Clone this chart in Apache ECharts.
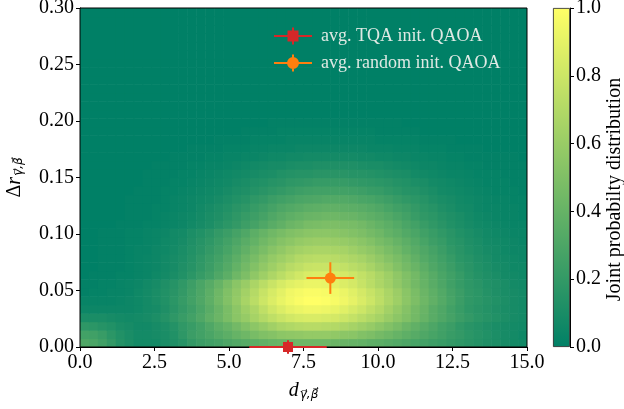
<!DOCTYPE html>
<html><head><meta charset="utf-8">
<script src="https://cdn.jsdelivr.net/npm/echarts@6/dist/echarts.min.js"></script>
<style>html,body{margin:0;padding:0;background:#fff}#c{width:624px;height:409px}</style>
</head><body><div id="c"></div>
<script>
// cell centres of the joint-probability grid
const xCenters = [0.15,0.45,0.75,1.05,1.35,1.65,1.95,2.25,2.55,2.85,3.15,3.45,3.75,4.05,4.35,4.65,4.95,5.25,5.55,5.85,6.15,6.45,6.75,7.05,7.35,7.65,7.95,8.25,8.55,8.85,9.15,9.45,9.75,10.05,10.35,10.65,10.95,11.25,11.55,11.85,12.15,12.45,12.75,13.05,13.35,13.65,13.95,14.25,14.55,14.85];
const yCenters = [0.00375,0.01125,0.01875,0.02625,0.03375,0.04125,0.04875,0.05625,0.06375,0.07125,0.07875,0.08625,0.09375,0.10125,0.10875,0.11625,0.12375,0.13125,0.13875,0.14625,0.15375,0.16125,0.16875,0.17625,0.18375,0.19125,0.19875,0.20625,0.21375,0.22125,0.22875,0.23625,0.24375,0.25125,0.25875,0.26625,0.27375,0.28125,0.28875,0.29625];
// joint probability (rows = yCenters, columns = xCenters)
const density = [
[.31,.29,.25,.20,.14,.11,.08,.08,.08,.10,.12,.15,.20,.23,.25,.27,.30,.32,.34,.36,.38,.40,.41,.42,.43,.43,.43,.43,.42,.41,.40,.39,.37,.36,.34,.32,.30,.28,.26,.24,.22,.20,.18,.16,.14,.12,.11,.09,.08,.07],
[.26,.25,.22,.17,.13,.10,.08,.08,.09,.10,.13,.18,.23,.26,.29,.33,.36,.40,.43,.47,.50,.52,.55,.56,.57,.58,.58,.58,.57,.55,.54,.51,.49,.46,.43,.40,.37,.34,.31,.28,.25,.22,.20,.17,.15,.13,.11,.09,.08,.06],
[.18,.17,.15,.13,.10,.09,.07,.07,.09,.11,.14,.19,.22,.26,.31,.36,.40,.45,.50,.55,.59,.63,.67,.69,.71,.72,.72,.71,.70,.68,.65,.62,.59,.55,.51,.47,.42,.38,.34,.30,.26,.23,.19,.16,.14,.12,.10,.09,.08,.07],
[.10,.10,.10,.09,.08,.07,.08,.09,.11,.14,.18,.22,.26,.31,.37,.42,.48,.54,.59,.65,.70,.75,.79,.82,.84,.85,.85,.84,.83,.80,.77,.73,.69,.65,.60,.55,.50,.45,.40,.35,.31,.27,.23,.20,.17,.15,.13,.11,.09,.08],
[.05,.05,.05,.05,.05,.05,.06,.08,.09,.12,.16,.20,.24,.29,.35,.41,.48,.55,.62,.68,.75,.81,.86,.90,.92,.94,.94,.93,.91,.88,.84,.80,.75,.70,.64,.58,.52,.46,.41,.35,.31,.26,.22,.18,.16,.14,.12,.10,.09,.08],
[.03,.03,.03,.03,.04,.05,.06,.08,.10,.13,.17,.21,.26,.31,.37,.44,.51,.58,.66,.73,.80,.86,.91,.95,.98,1,1,.99,.97,.94,.90,.85,.80,.74,.68,.62,.55,.49,.43,.38,.33,.28,.23,.19,.17,.15,.13,.11,.09,.08],
[.01,.02,.02,.03,.03,.04,.06,.08,.10,.13,.16,.20,.25,.30,.36,.43,.50,.57,.64,.71,.78,.84,.89,.94,.96,.98,.98,.97,.95,.92,.88,.83,.78,.73,.67,.61,.54,.48,.42,.37,.32,.27,.23,.19,.17,.14,.12,.10,.09,.08],
[.01,.01,.02,.02,.03,.04,.05,.07,.09,.12,.15,.19,.24,.29,.34,.40,.47,.54,.60,.67,.73,.79,.84,.88,.90,.92,.92,.91,.89,.86,.83,.78,.73,.68,.63,.57,.51,.45,.40,.35,.30,.25,.21,.18,.16,.13,.12,.10,.08,.07],
[0,.01,.01,.01,.02,.02,.03,.04,.06,.08,.10,.13,.17,.21,.25,.31,.36,.43,.49,.56,.62,.68,.73,.78,.82,.85,.86,.86,.85,.83,.80,.76,.72,.67,.62,.56,.50,.45,.39,.34,.29,.25,.21,.17,.14,.12,.10,.08,.07,.06],
[0,0,.01,.01,.01,.02,.03,.04,.05,.07,.09,.12,.15,.19,.23,.28,.33,.39,.45,.51,.57,.62,.67,.72,.75,.78,.79,.79,.78,.76,.73,.70,.66,.61,.57,.51,.46,.41,.36,.31,.27,.23,.19,.16,.13,.11,.09,.08,.06,.06],
[0,0,.01,.01,.01,.02,.03,.04,.05,.07,.09,.11,.14,.18,.22,.26,.31,.36,.42,.47,.53,.58,.62,.66,.70,.72,.73,.73,.72,.70,.68,.65,.61,.57,.52,.48,.43,.38,.33,.29,.25,.21,.17,.15,.12,.10,.08,.07,.06,.05],
[0,0,.01,.01,.01,.02,.03,.03,.05,.06,.08,.10,.13,.16,.20,.24,.28,.33,.38,.43,.48,.53,.57,.61,.64,.66,.67,.67,.66,.65,.62,.59,.56,.52,.48,.44,.39,.35,.31,.27,.23,.19,.16,.13,.11,.09,.08,.06,.05,.05],
[0,0,.01,.01,.01,.02,.02,.03,.04,.06,.07,.09,.12,.15,.18,.22,.26,.30,.35,.39,.44,.48,.52,.55,.58,.60,.61,.61,.60,.59,.57,.54,.51,.47,.44,.40,.36,.32,.28,.24,.21,.17,.15,.12,.10,.08,.07,.06,.05,.04],
[0,0,.01,.01,.01,.02,.02,.03,.04,.05,.07,.08,.11,.13,.16,.20,.23,.27,.31,.36,.40,.44,.47,.50,.52,.54,.55,.55,.54,.53,.51,.49,.46,.43,.39,.36,.32,.29,.25,.22,.19,.16,.13,.11,.09,.07,.06,.05,.04,.04],
[0,0,0,0,.01,.01,.01,.02,.02,.03,.04,.05,.07,.09,.11,.14,.17,.20,.24,.27,.31,.35,.38,.42,.44,.47,.48,.49,.49,.48,.47,.45,.42,.39,.36,.33,.29,.26,.22,.19,.16,.13,.11,.09,.07,.06,.05,.04,.03,.03],
[0,0,0,0,0,.01,.01,.01,.02,.03,.04,.05,.06,.08,.10,.12,.15,.18,.21,.24,.27,.31,.34,.37,.39,.41,.42,.43,.43,.42,.41,.39,.37,.35,.32,.29,.26,.22,.19,.17,.14,.12,.10,.08,.06,.05,.04,.03,.03,.02],
[0,0,0,0,0,.01,.01,.01,.02,.02,.03,.04,.05,.07,.09,.11,.13,.16,.18,.21,.24,.27,.30,.32,.34,.36,.37,.38,.38,.37,.36,.35,.33,.31,.28,.25,.23,.20,.17,.15,.12,.10,.08,.07,.05,.04,.04,.03,.03,.02],
[0,0,0,0,0,.01,.01,.01,.01,.02,.03,.04,.05,.06,.07,.09,.11,.13,.15,.18,.20,.23,.25,.27,.29,.30,.31,.32,.32,.32,.31,.29,.28,.26,.24,.21,.19,.17,.15,.12,.10,.09,.07,.06,.05,.04,.03,.03,.02,.02],
[0,0,0,0,0,0,.01,.01,.01,.02,.02,.03,.04,.05,.06,.07,.09,.11,.12,.14,.16,.18,.20,.22,.24,.25,.26,.26,.26,.26,.25,.24,.22,.21,.19,.17,.15,.14,.12,.10,.08,.07,.06,.05,.04,.03,.02,.02,.02,.01],
[0,0,0,0,0,0,0,.01,.01,.01,.02,.02,.03,.04,.05,.06,.07,.09,.10,.12,.13,.15,.16,.18,.19,.20,.21,.21,.21,.21,.20,.19,.18,.17,.16,.14,.13,.11,.10,.08,.07,.06,.05,.04,.03,.02,.02,.02,.01,.01],
[0,0,0,0,0,0,0,.01,.01,.01,.01,.02,.02,.03,.04,.05,.06,.07,.08,.09,.10,.11,.13,.14,.15,.15,.16,.16,.16,.16,.15,.15,.14,.13,.12,.11,.10,.08,.07,.06,.05,.04,.04,.03,.02,.02,.02,.01,.01,.01],
[0,0,0,0,0,0,0,0,.01,.01,.01,.01,.02,.02,.03,.03,.04,.05,.06,.07,.08,.09,.09,.10,.11,.11,.12,.12,.12,.12,.12,.11,.10,.10,.09,.08,.07,.06,.05,.05,.04,.03,.03,.02,.02,.01,.01,.01,.01,.01],
[0,0,0,0,0,0,0,0,0,0,.01,.01,.01,.01,.02,.02,.03,.03,.04,.04,.05,.06,.06,.07,.07,.08,.08,.08,.08,.08,.08,.07,.07,.06,.06,.05,.05,.04,.04,.03,.03,.02,.02,.01,.01,.01,.01,.01,.01,0],
[0,0,0,0,0,0,0,0,0,0,0,0,.01,.01,.01,.01,.02,.02,.02,.03,.03,.04,.04,.04,.05,.05,.05,.05,.05,.05,.05,.05,.04,.04,.04,.03,.03,.03,.02,.02,.02,.01,.01,.01,.01,0,0,0,0,0],
[0,0,0,0,0,0,0,0,0,0,0,0,0,0,0,.01,.01,.01,.01,.02,.02,.02,.02,.03,.03,.03,.03,.03,.03,.03,.03,.03,.03,.02,.02,.02,.02,.02,.01,.01,.01,.01,0,0,0,0,0,0,0,0],
[0,0,0,0,0,0,0,0,0,0,0,0,0,0,0,0,0,0,.01,.01,.01,.01,.02,.02,.02,.02,.02,.02,.02,.02,.02,.02,.02,.01,.01,.01,.01,.01,0,0,0,0,0,0,0,0,0,0,0,0],
[0,0,0,0,0,0,0,0,0,0,0,0,0,0,0,0,0,0,0,0,0,.01,.01,.01,.01,.01,.01,.01,.01,.01,.01,.01,.01,.01,.01,.01,0,0,0,0,0,0,0,0,0,0,0,0,0,0],
[0,0,0,0,0,0,0,0,0,0,0,0,0,0,0,0,0,0,0,0,0,0,0,0,0,0,0,0,0,0,0,0,0,0,0,0,0,0,0,0,0,0,0,0,0,0,0,0,0,0],
[0,0,0,0,0,0,0,0,0,0,0,0,0,0,0,0,0,0,0,0,0,0,0,0,0,0,0,0,0,0,0,0,0,0,0,0,0,0,0,0,0,0,0,0,0,0,0,0,0,0],
[0,0,0,0,0,0,0,0,0,0,0,0,0,0,0,0,0,0,0,0,0,0,0,0,0,0,0,0,0,0,0,0,0,0,0,0,0,0,0,0,0,0,0,0,0,0,0,0,0,0],
[0,0,0,0,0,0,0,0,0,0,0,0,0,0,0,0,0,0,0,0,0,0,0,0,0,0,0,0,0,0,0,0,0,0,0,0,0,0,0,0,0,0,0,0,0,0,0,0,0,0],
[0,0,0,0,0,0,0,0,0,0,0,0,0,0,0,0,0,0,0,0,0,0,0,0,0,0,0,0,0,0,0,0,0,0,0,0,0,0,0,0,0,0,0,0,0,0,0,0,0,0],
[0,0,0,0,0,0,0,0,0,0,0,0,0,0,0,0,0,0,0,0,0,0,0,0,0,0,0,0,0,0,0,0,0,0,0,0,0,0,0,0,0,0,0,0,0,0,0,0,0,0],
[0,0,0,0,0,0,0,0,0,0,0,0,0,0,0,0,0,0,0,0,0,0,0,0,0,0,0,0,0,0,0,0,0,0,0,0,0,0,0,0,0,0,0,0,0,0,0,0,0,0],
[0,0,0,0,0,0,0,0,0,0,0,0,0,0,0,0,0,0,0,0,0,0,0,0,0,0,0,0,0,0,0,0,0,0,0,0,0,0,0,0,0,0,0,0,0,0,0,0,0,0],
[0,0,0,0,0,0,0,0,0,0,0,0,0,0,0,0,0,0,0,0,0,0,0,0,0,0,0,0,0,0,0,0,0,0,0,0,0,0,0,0,0,0,0,0,0,0,0,0,0,0],
[0,0,0,0,0,0,0,0,0,0,0,0,0,0,0,0,0,0,0,0,0,0,0,0,0,0,0,0,0,0,0,0,0,0,0,0,0,0,0,0,0,0,0,0,0,0,0,0,0,0],
[0,0,0,0,0,0,0,0,0,0,0,0,0,0,0,0,0,0,0,0,0,0,0,0,0,0,0,0,0,0,0,0,0,0,0,0,0,0,0,0,0,0,0,0,0,0,0,0,0,0],
[0,0,0,0,0,0,0,0,0,0,0,0,0,0,0,0,0,0,0,0,0,0,0,0,0,0,0,0,0,0,0,0,0,0,0,0,0,0,0,0,0,0,0,0,0,0,0,0,0,0],
[0,0,0,0,0,0,0,0,0,0,0,0,0,0,0,0,0,0,0,0,0,0,0,0,0,0,0,0,0,0,0,0,0,0,0,0,0,0,0,0,0,0,0,0,0,0,0,0,0,0]
];
// averages with error bars: [x, y] and [xErr, yErr]
const seriesNames = ['avg. TQA init. QAOA', 'avg. random init. QAOA'];
const tqaPoint = [6.98, 0.0];
const tqaErr = [1.3, 0.006];
const randPoint = [8.4, 0.061];
const randErr = [0.8, 0.014];
const colorbarName = 'Joint probabilty distribution';

const FONT = "'Liberation Serif','DejaVu Serif',serif";
const SUBFONT = "'DejaVu Sans','Liberation Serif',serif";
const C0 = '#008066', C1 = '#ffff66';
const RED = '#d62728', ORANGE = '#ff7f0e';

const cellW = xCenters[1] - xCenters[0];
const cellH = yCenters[1] - yCenters[0];
const heat = [];
density.forEach((row, j) => row.forEach((v, i) => heat.push([xCenters[i], yCenters[j], v])));

function errRender(color) {
  return function (params, api) {
    const x = api.value(0), y = api.value(1), ex = api.value(2), ey = api.value(3);
    const l = api.coord([x - ex, y]), r = api.coord([x + ex, y]);
    const t = api.coord([x, y + ey]), b = api.coord([x, y - ey]);
    return {type: 'group', children: [
      {type: 'line', shape: {x1: l[0], y1: l[1], x2: r[0], y2: r[1]}, style: {stroke: color, lineWidth: 2}},
      {type: 'line', shape: {x1: t[0], y1: t[1], x2: b[0], y2: b[1]}, style: {stroke: color, lineWidth: 2}}
    ]};
  };
}

const ICON_BAR = 'M0,7.5h38v2h-38z M18,0h2v17h-2z ';
const ICON_SQUARE = 'path://' + ICON_BAR + 'M13.5,3h11v11h-11z';
const ICON_CIRCLE = 'path://' + ICON_BAR +
  'M25,8.5L24.54,10.8L23.24,12.74L21.3,14.04L19,14.5L16.7,14.04L14.76,12.74L13.46,10.8L13,8.5L13.46,6.2L14.76,4.26L16.7,2.96L19,2.5L21.3,2.96L23.24,4.26L24.54,6.2z';

const tickLabel = {color: '#000', fontFamily: FONT, fontSize: 20, margin: 6};
const axisLine = {show: true, onZero: false, lineStyle: {color: '#000', width: 1}};
const axisTick = {show: true, length: 4, lineStyle: {color: '#000', width: 1}};
const subRich = {
  u: {fontSize: 20, fontFamily: FONT, color: '#000', verticalAlign: 'top', lineHeight: 20},
  m: {fontSize: 20, fontFamily: FONT, fontStyle: 'italic', color: '#000', verticalAlign: 'top', lineHeight: 20},
  s: {fontSize: 12, fontFamily: SUBFONT, fontStyle: 'italic', color: '#000', verticalAlign: 'bottom', lineHeight: 13, padding: [11, 0, 0, 1]}
};

const chart = echarts.init(document.getElementById('c'));
chart.setOption({
  animation: false,
  backgroundColor: '#fff',
  grid: [
    {left: 80, top: 8, width: 447, height: 339, outerBoundsMode: 'none', containLabel: false,
     show: true, z: 5, backgroundColor: 'transparent', borderColor: '#000', borderWidth: 1},
    {left: 553, top: 8, width: 17, height: 339, outerBoundsMode: 'none', containLabel: false}
  ],
  visualMap: {type: 'continuous', show: false, min: 0, max: 1, dimension: 2, seriesIndex: 0, inRange: {color: [C0, C1]}},
  legend: {
    orient: 'vertical', left: 269, top: 22, itemWidth: 38, itemHeight: 17, itemGap: 9, selectedMode: false,
    data: [
      {name: seriesNames[0], icon: ICON_SQUARE},
      {name: seriesNames[1], icon: ICON_CIRCLE}
    ],
    textStyle: {color: '#dfe9e4', fontFamily: FONT, fontSize: 18, padding: [0, 0, 0, 4]}
  },
  xAxis: [
    {gridIndex: 0, type: 'value', min: 0, max: 15, interval: 2.5, axisLine, axisTick, splitLine: {show: false},
     axisLabel: Object.assign({formatter: v => v.toFixed(1)}, tickLabel),
     name: '{m|d}{s|γ⃗,β⃗}', nameLocation: 'middle', nameGap: 20, nameTextStyle: {rich: subRich}},
    {gridIndex: 1, type: 'category', data: ['cb'], show: false}
  ],
  yAxis: [
    {gridIndex: 0, type: 'value', min: 0, max: 0.3, interval: 0.05, axisLine, axisTick, splitLine: {show: false},
     axisLabel: Object.assign({formatter: v => v.toFixed(2)}, tickLabel),
     name: '{u|Δ}{m|r}{s|γ⃗,β⃗}', nameLocation: 'middle', nameRotate: 90, nameGap: 55, nameTextStyle: {rich: subRich}},
    {gridIndex: 1, type: 'value', position: 'right', min: 0, max: 1, interval: 0.2, axisLine, axisTick, splitLine: {show: false},
     axisLabel: Object.assign({formatter: v => v.toFixed(1)}, tickLabel),
     name: colorbarName, nameLocation: 'middle', nameRotate: 90, nameGap: 33,
     nameTextStyle: {color: '#000', fontFamily: FONT, fontSize: 20, lineHeight: 20, padding: [0, 24, 0, 0]}}
  ],
  series: [
    {type: 'custom', name: 'density', xAxisIndex: 0, yAxisIndex: 0, data: heat, clip: true, silent: true,
     encode: {x: 0, y: 1},
     renderItem: function (params, api) {
       const x = api.value(0), y = api.value(1);
       const p0 = api.coord([x - cellW / 2, y + cellH / 2]);
       const p1 = api.coord([x + cellW / 2, y - cellH / 2]);
       return {type: 'rect', shape: {x: p0[0], y: p0[1], width: p1[0] - p0[0] + 0.6, height: p1[1] - p0[1] + 0.6},
               style: {fill: api.visual('color')}};
     }},
    {type: 'custom', name: 'tqaErr', xAxisIndex: 0, yAxisIndex: 0, z: 11, clip: false, silent: true,
     data: [[tqaPoint[0], tqaPoint[1], tqaErr[0], tqaErr[1]]], renderItem: errRender(RED)},
    {type: 'custom', name: 'randErr', xAxisIndex: 0, yAxisIndex: 0, z: 11, clip: false, silent: true,
     data: [[randPoint[0], randPoint[1], randErr[0], randErr[1]]], renderItem: errRender(ORANGE)},
    {type: 'scatter', name: seriesNames[0], xAxisIndex: 0, yAxisIndex: 0, z: 12, clip: false, silent: true,
     symbol: 'rect', symbolSize: 10, itemStyle: {color: RED, opacity: 1}, data: [tqaPoint]},
    {type: 'scatter', name: seriesNames[1], xAxisIndex: 0, yAxisIndex: 0, z: 12, clip: false, silent: true,
     symbol: 'circle', symbolSize: 11, itemStyle: {color: ORANGE, opacity: 1}, data: [randPoint]},
    {type: 'bar', name: 'colorbar', xAxisIndex: 1, yAxisIndex: 1, data: [1], barWidth: '100%', silent: true,
     itemStyle: {borderColor: '#222', borderWidth: 0.8,
       color: {type: 'linear', x: 0, y: 1, x2: 0, y2: 0, colorStops: [{offset: 0, color: C0}, {offset: 1, color: C1}]}}}
  ]
});
</script>
</body></html>
